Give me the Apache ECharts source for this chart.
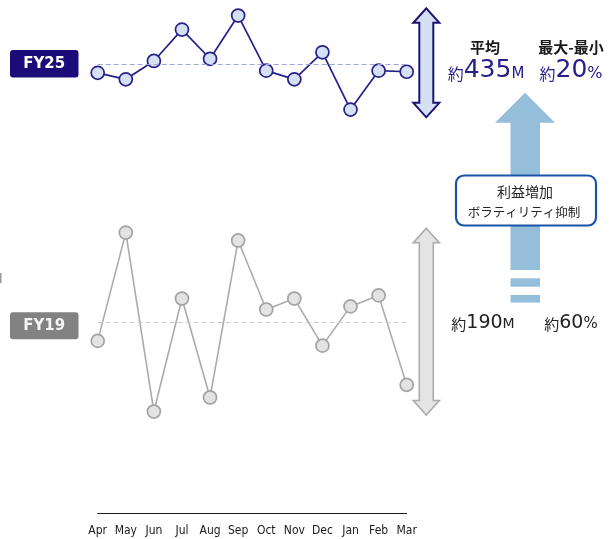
<!DOCTYPE html>
<html>
<head>
<meta charset="utf-8">
<script src="https://cdn.jsdelivr.net/npm/echarts@6/dist/echarts.min.js"></script>
<style>
html,body{margin:0;padding:0;background:#fff;}
#c{width:615px;height:539px;}
</style>
</head>
<body>
<div id="c"></div>
<script>
// ---- data ----
var months = ['Apr','May','Jun','Jul','Aug','Sep','Oct','Nov','Dec','Jan','Feb','Mar'];
var fy25 = [427, 421, 438, 467, 440, 480, 429, 421, 446, 393, 429, 428];
var fy19 = [178, 247, 133, 205, 142, 242, 198, 205, 175, 200, 207, 150];
var seriesNames = ['FY25', 'FY19'];
var fy25Avg = '435', fy25Range = '20';
var fy19Avg = '190', fy19Range = '60';
var headerAvg = '平均', headerRange = '最大-最小';
var boxLines = ['利益増加', 'ボラティリティ抑制'];

var NAVY = '#26208a';
var jp = '"Noto Sans CJK JP", "DejaVu Sans", sans-serif';
var num = '"DejaVu Sans", "Noto Sans", sans-serif';

function dblArrow(cx, top, bottom, fill, stroke, lw) {
  var hw = 13, sw = 7, hh = 14.5;
  return {
    type: 'polygon', z: 10,
    shape: { points: [
      [cx, top], [cx + hw, top + hh], [cx + sw, top + hh], [cx + sw, bottom - hh],
      [cx + hw, bottom - hh], [cx, bottom], [cx - hw, bottom - hh], [cx - sw, bottom - hh],
      [cx - sw, top + hh], [cx - hw, top + hh]
    ]},
    style: { fill: fill, stroke: stroke, lineWidth: lw, lineJoin: 'miter' }
  };
}
function numText(x, y, pre, val, suf, color, s1, s2, s3) {
  return { type: 'text', x: x, y: y, style: { text: '{a|' + pre + '}{b|' + val + '}{c|' + suf + '}', textAlign: 'center', textVerticalAlign: 'middle',
    rich: { a: { fontSize: s1, fontFamily: jp, fill: color, color: color, verticalAlign: 'bottom', padding: [0, 0, 1, 0] },
            b: { fontSize: s2, fontFamily: num, fill: color, color: color, verticalAlign: 'bottom' },
            c: { fontSize: s3, fontFamily: num, fill: color, color: color, verticalAlign: 'bottom', padding: [0, 0, 1, 0] } } } };
}

var chart = echarts.init(document.getElementById('c'), null, { renderer: 'canvas' });
chart.setOption({
  animation: false,
  grid: [
    { left: 97.7, right: 208.3, top: 4.74, height: 118.9 },
    { left: 97.7, right: 208.3, top: 180.8, height: 332.8 }
  ],
  xAxis: [
    { gridIndex: 0, type: 'category', data: months, boundaryGap: false, show: false },
    { gridIndex: 1, type: 'category', data: months, boundaryGap: false,
      axisLine: { show: true, lineStyle: { color: '#1a1a1a', width: 1 } },
      axisTick: { show: false },
      axisLabel: { color: '#1a1a1a', fontSize: 12, fontFamily: '"DejaVu Sans Condensed", "DejaVu Sans", sans-serif', margin: 11, interval: 0 },
      splitLine: { show: false } }
  ],
  yAxis: [
    { gridIndex: 0, type: 'value', min: 380, max: 490, show: false, splitLine: { show: false } },
    { gridIndex: 1, type: 'value', min: 68, max: 280, show: false, splitLine: { show: false } }
  ],
  series: [
    { name: seriesNames[0], type: 'line', xAxisIndex: 0, yAxisIndex: 0, data: fy25,
      symbol: 'circle', symbolSize: 13,
      lineStyle: { color: NAVY, width: 1.7 },
      itemStyle: { color: '#d6e0f3', borderColor: NAVY, borderWidth: 1.7 },
      markLine: { silent: true, symbol: 'none', label: { show: false },
        lineStyle: { color: '#9fa3dc', type: [5, 3], width: 1.2 },
        data: [{ type: 'average' }] }
    },
    { name: seriesNames[1], type: 'line', xAxisIndex: 1, yAxisIndex: 1, data: fy19,
      symbol: 'circle', symbolSize: 13,
      lineStyle: { color: '#ababab', width: 1.6 },
      itemStyle: { color: '#e3e3e3', borderColor: '#a3a3a3', borderWidth: 1.7 },
      markLine: { silent: true, symbol: 'none', label: { show: false },
        lineStyle: { color: '#cccccc', type: [5, 3], width: 1.2 },
        data: [{ type: 'average' }] }
    }
  ],
  graphic: [
    // series tags
    { type: 'rect', shape: { x: 10, y: 50, width: 68.5, height: 27.5, r: 3 }, style: { fill: '#1c0c78' } },
    { type: 'text', x: 44.2, y: 64, style: { text: seriesNames[0], fill: '#ffffff', font: 'bold 15px "DejaVu Sans", Verdana, sans-serif', textAlign: 'center', textVerticalAlign: 'middle' } },
    { type: 'rect', shape: { x: 10, y: 312.3, width: 68.5, height: 27, r: 3 }, style: { fill: '#828282' } },
    { type: 'text', x: 44.2, y: 326, style: { text: seriesNames[1], fill: '#f4f4f4', font: 'bold 15px "DejaVu Sans", Verdana, sans-serif', textAlign: 'center', textVerticalAlign: 'middle' } },
    // edge mark
    { type: 'rect', shape: { x: 0, y: 273, width: 1.5, height: 10 }, style: { fill: '#9a9a9a' } },
    // double arrows
    dblArrow(426.3, 8.3, 117.3, '#d6e0f3', '#1c1470', 2),
    dblArrow(426.3, 228.3, 415, '#e4e4e4', '#ababab', 1.6),
    // blue up arrow
    { type: 'polygon', shape: { points: [[525, 92.7], [555, 122.7], [540, 122.7], [540, 270], [510.5, 270], [510.5, 122.7], [495, 122.7]] },
      style: { fill: '#95bedb' } },
    { type: 'rect', shape: { x: 510.5, y: 278.3, width: 29.5, height: 8.4 }, style: { fill: '#95bedb' } },
    { type: 'rect', shape: { x: 510.5, y: 295, width: 29.5, height: 7.6 }, style: { fill: '#95bedb' } },
    // box
    { type: 'rect', z: 20, shape: { x: 456, y: 175.5, width: 140, height: 50, r: 8 }, style: { fill: '#ffffff', stroke: '#1a54a6', lineWidth: 2.2 } },
    { type: 'text', z: 21, x: 525, y: 192, style: { text: boxLines[0], fill: '#262626', font: '14px ' + jp, textAlign: 'center', textVerticalAlign: 'middle' } },
    { type: 'text', z: 21, x: 524, y: 212, style: { text: boxLines[1], fill: '#262626', font: '12.5px ' + jp, textAlign: 'center', textVerticalAlign: 'middle' } },
    // headers
    { type: 'text', x: 485, y: 47, style: { text: headerAvg, fill: '#1a1a1a', font: 'bold 15px ' + jp, textAlign: 'center', textVerticalAlign: 'middle' } },
    { type: 'text', x: 571, y: 47, style: { text: headerRange, fill: '#1a1a1a', font: 'bold 15px ' + jp, textAlign: 'center', textVerticalAlign: 'middle' } },
    // numbers
    numText(486, 70, '約', fy25Avg, 'M', NAVY, 16, 25, 15),
    numText(571, 70, '約', fy25Range, '%', NAVY, 16, 25, 16),
    numText(483, 323, '約', fy19Avg, 'M', '#222', 15, 19, 14),
    numText(571, 323, '約', fy19Range, '%', '#222', 15, 19, 15)
  ]
});
</script>
</body>
</html>
